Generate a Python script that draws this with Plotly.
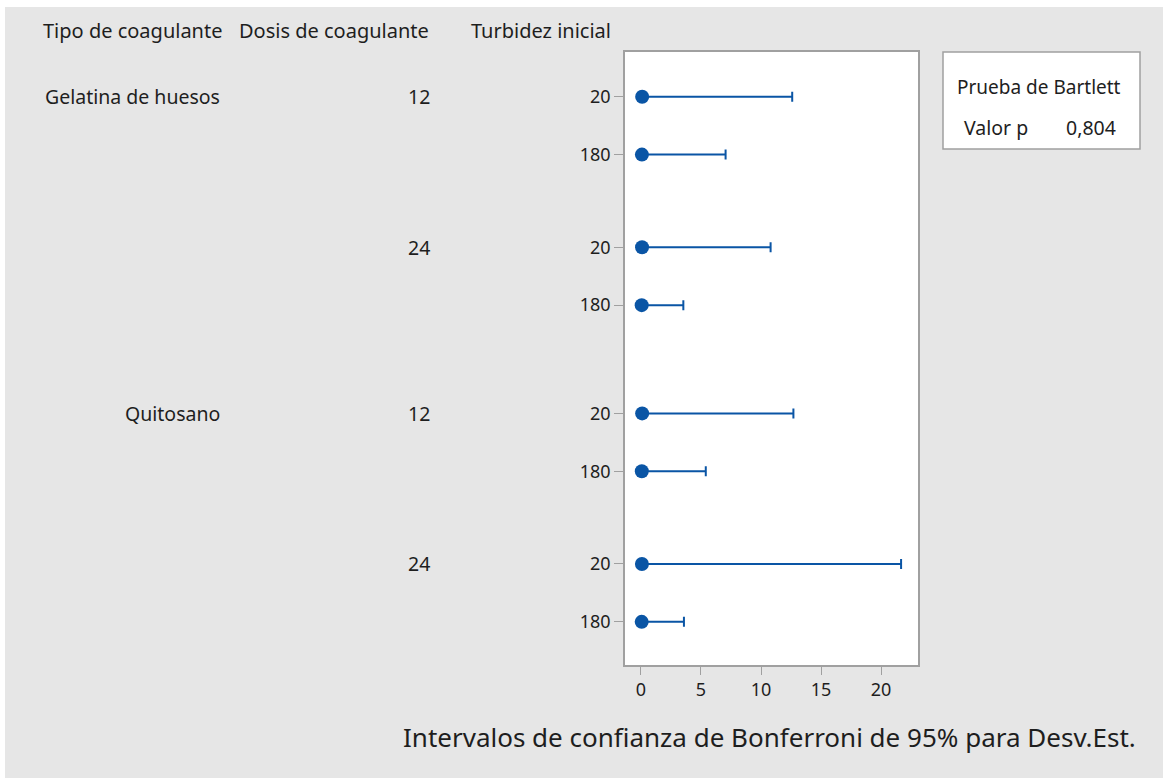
import plotly.graph_objects as go

# ---- data ----
tipo = ["Gelatina de huesos", "Gelatina de huesos", "Gelatina de huesos", "Gelatina de huesos",
        "Quitosano", "Quitosano", "Quitosano", "Quitosano"]
dosis = ["12", "12", "24", "24", "12", "12", "24", "24"]
turbidez = ["20", "180", "20", "180", "20", "180", "20", "180"]
desv_est = [0.10, 0.08, 0.09, 0.06, 0.10, 0.07, 0.08, 0.06]
lim_inf = [0.03, 0.02, 0.03, 0.01, 0.03, 0.02, 0.02, 0.01]
lim_sup = [12.6, 7.05, 10.8, 3.53, 12.7, 5.4, 21.67, 3.58]
x_ticks = [0, 5, 10, 15, 20]
p_valor = "0,804"

W, H = 1163, 778
L, R, T, B = 625, 918, 52, 665
FONT = "Noto Sans"
TXT = "#1e1e1e"
BLUE = "#0a55a5"

# row positions from grouping structure
pos = []
p = 0.0
for i in range(len(tipo)):
    if i > 0:
        if tipo[i] != tipo[i - 1]:
            p += 1.87
        elif dosis[i] != dosis[i - 1]:
            p += 1.6
        else:
            p += 1.0
    pos.append(p)

def px_x(px):
    return (px - L) / (R - L)

def px_y(py):
    return (B - py) / (B - T)

fig = go.Figure()
fig.add_trace(go.Scatter(
    x=desv_est, y=pos, mode="markers",
    marker=dict(color=BLUE, size=14, symbol="circle"),
    error_x=dict(type="data", symmetric=False,
                 array=[u - s for u, s in zip(lim_sup, desv_est)],
                 arrayminus=[s - l for s, l in zip(desv_est, lim_inf)],
                 color=BLUE, thickness=2, width=5),
    showlegend=False, hoverinfo="skip"))

ann = []
# headers
for text, cx in [("Tipo de coagulante", 132), ("Dosis de coagulante", 334), ("Turbidez inicial", 541)]:
    ann.append(dict(text=text, x=px_x(cx), y=px_y(30), xref="paper", yref="paper",
                    xanchor="center", yanchor="middle", showarrow=False,
                    font=dict(size=20, color=TXT, family=FONT)))
# group labels
for i in range(len(tipo)):
    if i == 0 or tipo[i] != tipo[i - 1]:
        ann.append(dict(text=tipo[i], x=px_x(222), y=pos[i], xref="paper", yref="y",
                        xanchor="right", yanchor="middle", showarrow=False,
                        font=dict(size=19.5, color=TXT, family=FONT)))
    if i == 0 or dosis[i] != dosis[i - 1] or tipo[i] != tipo[i - 1]:
        ann.append(dict(text=dosis[i], x=px_x(432), y=pos[i], xref="paper", yref="y",
                        xanchor="right", yanchor="middle", showarrow=False,
                        font=dict(size=19.5, color=TXT, family=FONT)))

# Bartlett box
ann.append(dict(text="Prueba de Bartlett", x=px_x(1039), y=px_y(87), xref="paper", yref="paper",
                xanchor="center", yanchor="middle", showarrow=False,
                font=dict(size=19, color=TXT, family=FONT)))
ann.append(dict(text="Valor p", x=px_x(962), y=px_y(128), xref="paper", yref="paper",
                xanchor="left", yanchor="middle", showarrow=False,
                font=dict(size=19.5, color=TXT, family=FONT)))
ann.append(dict(text=p_valor, x=px_x(1118), y=px_y(128), xref="paper", yref="paper",
                xanchor="right", yanchor="middle", showarrow=False,
                font=dict(size=19.5, color=TXT, family=FONT)))
# x axis title
ann.append(dict(text="Intervalos de confianza de Bonferroni de 95% para Desv.Est.",
                x=px_x(1138), y=px_y(737), xref="paper", yref="paper",
                xanchor="right", yanchor="middle", showarrow=False,
                font=dict(size=26, color=TXT, family=FONT)))

shapes = [
    # white strips at top / left edge
    dict(type="rect", xref="paper", yref="paper", x0=px_x(0), x1=px_x(W), y0=px_y(7), y1=px_y(0),
         fillcolor="white", line=dict(width=0), layer="below"),
    dict(type="rect", xref="paper", yref="paper", x0=px_x(0), x1=px_x(5), y0=px_y(H), y1=px_y(0),
         fillcolor="white", line=dict(width=0), layer="below"),
    # legend box
    dict(type="rect", xref="paper", yref="paper", x0=px_x(943), x1=px_x(1140), y0=px_y(149), y1=px_y(52),
         fillcolor="white", line=dict(width=1.5, color="#a0a0a0")),
]

fig.update_layout(
    width=W, height=H,
    margin=dict(l=L, r=W - R, t=T, b=H - B, pad=0),
    paper_bgcolor="#e6e6e6", plot_bgcolor="white",
    font=dict(family=FONT, size=18, color=TXT),
    annotations=ann, shapes=shapes,
    xaxis=dict(range=[-1.33, 23.08], tickvals=x_ticks, ticktext=[str(v) for v in x_ticks],
               showgrid=False, zeroline=False, showline=True, linecolor="#a0a0a0", linewidth=1.5,
               mirror=True, ticks="outside", ticklen=8, tickcolor="#a0a0a0", tickwidth=1,
               tickfont=dict(size=18, color=TXT, family=FONT)),
    yaxis=dict(range=[9.815, -0.772], tickvals=pos, ticktext=turbidez,
               showgrid=False, zeroline=False, showline=True, linecolor="#a0a0a0", linewidth=1.5,
               mirror=True, ticks="outside", ticklen=9, tickcolor="#a0a0a0", tickwidth=1,
               tickfont=dict(size=18, color=TXT, family=FONT)),
)

fig.write_html("out.html")
